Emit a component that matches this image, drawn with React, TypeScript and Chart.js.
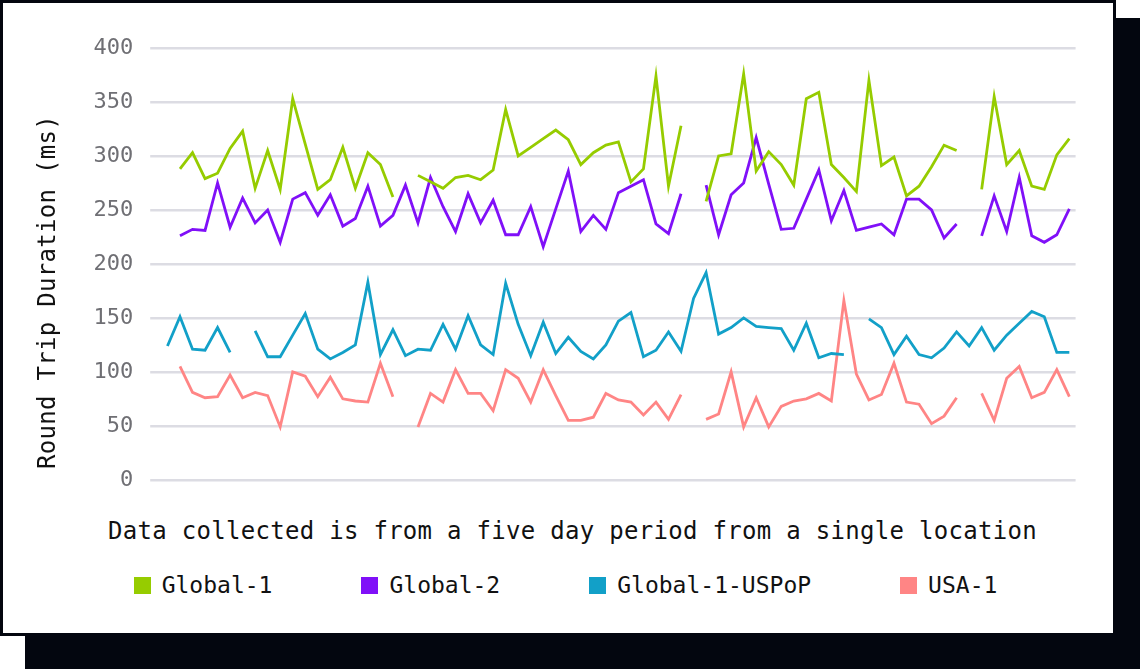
import React, { useEffect, useRef } from "react";
import Chart from "chart.js/auto";

// five days of samples, the x axis itself is not labelled in the picture
const samples = Array.from({ length: 73 }, (_, i) => `Sample ${i + 1}`);

const global1 = [
  null, 288, 303, 279, 284, 307, 323, 270, 305, 269, 353, 311, 269, 278, 308, 270, 303, 292, 262,
  null, 282, 276, 270, 280, 282, 278, 287, 343, 300, 308, 316, 324, 315, 292, 303, 310, 313, 276,
  288, 374, 272, 328, null, 258, 300, 302, 376, 286, 304, 292, 273, 353, 359, 292, 280, 267, 370,
  291, 299, 263, 272, 290, 310, 305, null, 269, 355, 292, 305, 272, 269, 301, 316,
];

const global2 = [
  null, 226, 232, 231, 275, 234, 261, 238, 250, 220, 260, 266, 245, 264, 235, 242, 272, 235, 245,
  273, 238, 280, 253, 230, 265, 238, 259, 227, 227, 253, 216, 251, 286, 230, 245, 232, 266, 272,
  278, 237, 228, 265, null, 273, 227, 264, 275, 317, 274, 232, 233, 260, 287, 240, 268, 231, 234,
  237, 227, 260, 260, 250, 224, 237, null, 226, 263, 230, 280, 226, 220, 227, 251,
];

const global1USPoP = [
  124, 151, 121, 120, 141, 118, null, 138, 114, 114, 134, 154, 121, 112, 118, 125, 183, 116, 139,
  115, 121, 120, 144, 121, 152, 125, 116, 182, 144, 115, 146, 117, 132, 119, 112, 125, 147, 155,
  114, 120, 137, 119, 168, 192, 135, 141, 150, 142, 141, 140, 120, 145, 113, 117, 116, null, 149,
  141, 116, 133, 116, 113, 122, 137, 124, 141, 120, 134, 145, 156, 151, 118, 118,
];

const usa1 = [
  null, 105, 81, 76, 77, 97, 76, 81, 78, 49, 100, 96, 77, 95, 75, 73, 72, 108, 77,
  null, 49, 80, 72, 102, 80, 80, 64, 102, 94, 72, 102, 78, 55, 55, 58, 80, 74, 72,
  60, 72, 56, 79, null, 56, 61, 100, 49, 76, 49, 68, 73, 75, 80, 73, 166, 98, 74,
  79, 108, 72, 70, 52, 59, 76, null, 80, 55, 94, 105, 76, 81, 102, 77,
];

const seriesNames = ["Global-1", "Global-2", "Global-1-USPoP", "USA-1"];
const seriesData = [global1, global2, global1USPoP, usa1];
const seriesColors = ["#96cc00", "#8010f8", "#12a0c8", "#ff8585"];

const yTitle = "Round Trip Duration (ms)";
const caption = "Data collected is from a five day period from a single location";

const MONO = "'DejaVu Sans Mono', 'Liberation Mono', monospace";
const INK = "#03060f";

const LatencyChart: React.FC = () => {
  const canvasRef = useRef<HTMLCanvasElement>(null);
  const chartRef = useRef<Chart | null>(null);

  useEffect(() => {
    if (!canvasRef.current) return;
    if (chartRef.current) chartRef.current.destroy();

    chartRef.current = new Chart(canvasRef.current, {
      type: "line",
      data: {
        labels: samples,
        datasets: seriesNames.map((name, i) => ({
          label: name,
          data: seriesData[i],
          borderColor: seriesColors[i],
          backgroundColor: seriesColors[i],
          borderWidth: 2.8,
          pointRadius: 0,
          tension: 0,
          spanGaps: false,
        })),
      },
      options: {
        animation: false,
        responsive: true,
        maintainAspectRatio: false,
        layout: { padding: { top: 45, left: 31, right: 37.4, bottom: 22 } },
        plugins: {
          legend: { display: false },
          tooltip: { enabled: false },
        },
        scales: {
          x: {
            display: false,
            offset: true,
            grid: { display: false, drawTicks: false },
          },
          y: {
            min: 0,
            max: 400,
            ticks: {
              stepSize: 50,
              padding: 17,
              color: "#6f6f74",
              font: { family: MONO, size: 22 },
            },
            grid: { color: "#dcdce3", lineWidth: 2.5, tickLength: 11 },
            border: { display: false },
            afterFit: (scale: any) => {
              scale.width = 127.2;
            },
          },
        },
      },
    });

    return () => {
      if (chartRef.current) {
        chartRef.current.destroy();
        chartRef.current = null;
      }
    };
  }, []);

  return (
    <div style={{ position: "fixed", inset: 0, background: "#fff", overflow: "hidden" }}>
      <div
        style={{ position: "absolute", left: 25, top: 18, width: 1140, height: 700, background: INK }}
      />
      <div
        style={{
          position: "absolute",
          left: 0,
          top: 0,
          width: 1116,
          height: 636,
          boxSizing: "border-box",
          border: `3px solid ${INK}`,
          background: "#fff",
        }}
      >
        <div style={{ position: "absolute", left: 0, top: 0, width: 1110, height: 507 }}>
          <canvas ref={canvasRef} />
        </div>

        <div
          style={{
            position: "absolute",
            left: -154.6,
            top: 273.5,
            width: 400,
            height: 30,
            lineHeight: "30px",
            textAlign: "center",
            transform: "rotate(-90deg)",
            font: `24px ${MONO}`,
            letterSpacing: "0.3px",
            color: "#111",
            whiteSpace: "nowrap",
          }}
        >
          {yTitle}
        </div>

        <div
          style={{
            position: "absolute",
            left: 25,
            top: 513.7,
            width: 1089,
            height: 30,
            lineHeight: "30px",
            textAlign: "center",
            font: `24px ${MONO}`,
            letterSpacing: "0.3px",
            color: "#111",
            whiteSpace: "nowrap",
          }}
        >
          {caption}
        </div>

        <div
          style={{
            position: "absolute",
            left: 7.5,
            top: 567,
            width: 1110,
            height: 30,
            display: "flex",
            justifyContent: "center",
            alignItems: "center",
            gap: 89,
          }}
        >
          {seriesNames.map((name, i) => (
            <div key={name} style={{ display: "flex", alignItems: "center" }}>
              <span
                style={{ width: 17, height: 17, background: seriesColors[i], marginRight: 11 }}
              />
              <span style={{ font: `23px ${MONO}`, lineHeight: "30px", color: "#111" }}>
                {name}
              </span>
            </div>
          ))}
        </div>
      </div>
    </div>
  );
};

export default function App() {
  return <LatencyChart />;
}
